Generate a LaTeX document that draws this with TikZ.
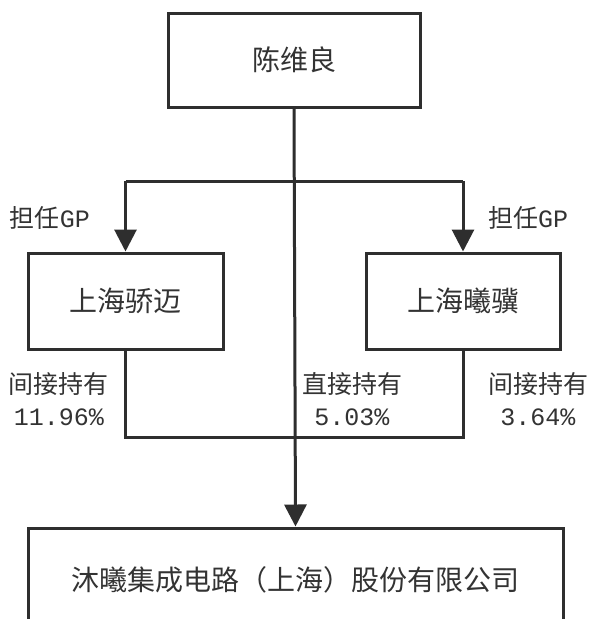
\documentclass[tikz,border=0pt]{standalone}
\usepackage{fontspec}
\newfontfamily\cjk{Noto Sans CJK SC}
\newfontfamily\monof{Liberation Mono}
\usetikzlibrary{arrows.meta}
\definecolor{ink}{HTML}{2E2E2E}
\definecolor{txt}{HTML}{333333}
\tikzset{
  box/.style={draw=ink, line width=3pt, fill=white, inner sep=0pt, font=\cjk\fontsize{28}{32}\selectfont, text=txt},
  lab/.style={inner sep=0pt, align=center, font=\cjk\fontsize{25}{32}\selectfont, text=txt},
  conn/.style={draw=ink, line width=3pt},
  arr/.style={conn, -{Triangle[length=22pt,width=22pt]}},
}
\begin{document}
\begin{tikzpicture}[x=1pt,y=-1pt]
\clip (0,0) rectangle (591,619);
\fill[white] (0,0) rectangle (591,619);
\node[box, minimum width=252pt, minimum height=94pt] (chen) at (294,60) {陈维良};
\node[box, minimum width=195pt, minimum height=96pt] (jm) at (125.5,301) {上海骄迈};
\node[box, minimum width=194pt, minimum height=96pt] (xj) at (463,301) {上海曦骥};
\node[box, minimum width=535pt, minimum height=104pt] (mx) at (295.5,580) {沐曦集成电路（上海）股份有限公司};
\coordinate (hl) at (125.5,181);
\coordinate (hr) at (463,181);
\coordinate (bl) at (125.5,437);
\coordinate (br) at (463,437);
\draw[conn] (hl) -- (hr);
\draw[arr] (hl) -- (jm.north);
\draw[arr] (hr) -- (xj.north);
\draw[conn] (jm.south) -- (bl) -- (br) -- (xj.south);
\draw[arr] (chen.south) -- (mx.north);
\node[lab] (gpl) at (50,218) {担任{\monof GP}};
\node[lab] (gpr) at (528,218) {担任{\monof GP}};
\node[lab] (il) at (59,399) {间接持有\\{\monof 11.96\%}};
\node[lab] (dm) at (352,399) {直接持有\\{\monof 5.03\%}};
\node[lab] (ir) at (538,399) {间接持有\\{\monof 3.64\%}};
\end{tikzpicture}
\end{document}
